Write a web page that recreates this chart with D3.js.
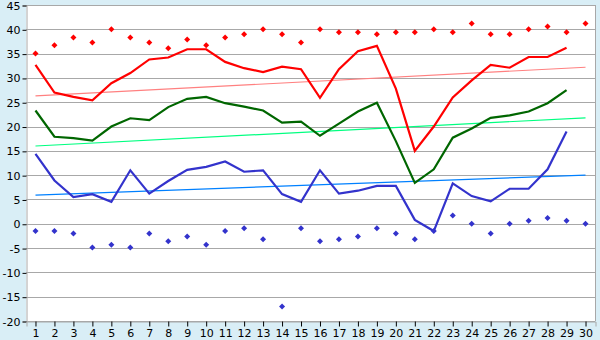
<!DOCTYPE html>
<html>
<head>
<meta charset="utf-8">
<script src="https://cdn.jsdelivr.net/npm/d3@7"></script>
<style>
  body { margin: 0; background: #d9eef6; }
  svg { display: block; }
  text { font-family: "DejaVu Sans", Verdana, sans-serif; font-size: 11px; fill: #000; }
</style>
</head>
<body>
<svg id="chart" width="600" height="340"></svg>
<script>
let days = d3.range(1, 31);
let yTicks = d3.range(-20, 46, 5);

// daily lines (29 days)
let maxT = [32.7, 27.0, 26.1, 25.4, 28.9, 31.0, 33.8, 34.2, 35.9, 35.9, 33.3, 32.0, 31.2, 32.3, 31.8,
  25.9, 31.8, 35.5, 36.6, 27.8, 15.0, 20.0, 26.0, 29.5, 32.7, 32.1, 34.3, 34.3, 36.2];
let meanT = [23.3, 17.9, 17.6, 17.1, 20.0, 21.7, 21.3, 24.0, 25.7, 26.1, 24.8, 24.1, 23.3, 20.8, 21.0,
  18.1, 20.6, 23.1, 24.9, 17.0, 8.4, 11.2, 17.7, 19.6, 21.8, 22.3, 23.1, 24.8, 27.5];
let minT = [14.4, 8.9, 5.5, 6.1, 4.5, 11.0, 6.2, 8.8, 11.1, 11.7, 12.8, 10.7, 11.0, 6.1, 4.5,
  11.0, 6.2, 6.8, 7.8, 7.8, 0.8, -1.5, 8.3, 5.7, 4.6, 7.2, 7.2, 11.2, 19.0];

// diamonds (30 days)
let absMax = [35.0, 36.7, 38.3, 37.3, 40.0, 38.3, 37.3, 36.1, 37.9, 36.7, 38.3, 39.0, 40.0, 39.0, 37.3,
  40.0, 39.4, 39.4, 39.0, 39.4, 39.4, 40.0, 39.4, 41.2, 39.0, 39.0, 40.0, 40.6, 39.4, 41.2];
let absMin = [-1.5, -1.5, -2.0, -4.9, -4.3, -4.9, -2.0, -3.6, -2.6, -4.3, -1.5, -0.9, -3.2, -17.0, -0.9,
  -3.6, -3.2, -2.6, -0.9, -2.0, -3.2, -1.5, 1.7, 0.0, -2.0, 0.0, 0.6, 1.2, 0.6, 0.0];

// trend lines, value at day 1 and day 30
let trendMax = [26.3, 32.2];
let trendMean = [16.0, 21.8];
let trendMin = [5.9, 10.0];

let plotLeft = 26, plotRight = 595, plotTop = 5, plotBottom = 321;

let svg = d3.select("#chart");

let x = d3.scaleBand().domain(days).range([plotLeft, plotRight]).padding(0);
let cx = (d) => x(d) + x.bandwidth() / 2;
let y = d3.scaleLinear().domain([-20, 45]).range([plotBottom, plotTop]);

svg.append("rect")
  .attr("x", plotLeft).attr("y", plotTop)
  .attr("width", plotRight - plotLeft).attr("height", plotBottom - plotTop)
  .style("fill", "#fff");

// grid
svg.append("g")
  .selectAll("line")
  .data(yTicks)
  .join("line")
  .attr("x1", plotLeft).attr("x2", plotRight)
  .attr("y1", (d) => Math.round(y(d)) + 0.5)
  .attr("y2", (d) => Math.round(y(d)) + 0.5)
  .style("stroke", "#a8a8a8");

svg.append("line")
  .attr("x1", plotRight + 0.5).attr("x2", plotRight + 0.5)
  .attr("y1", plotTop).attr("y2", plotBottom)
  .style("stroke", "#a8a8a8");

// axes
let yAxis = svg.append("g")
  .attr("transform", `translate(${plotLeft + 0.5},0.5)`)
  .call(d3.axisLeft(y).tickValues(yTicks).tickSize(4).tickPadding(2).tickFormat((d) => String(d)));
let xAxis = svg.append("g")
  .attr("transform", `translate(0.5,${plotBottom + 0.5})`)
  .call(d3.axisBottom(x).tickSize(5).tickPadding(3));
[yAxis, xAxis].forEach((a) => {
  a.select(".domain").style("stroke", "#a8a8a8");
  a.selectAll(".tick line").style("stroke", "#000");
  a.selectAll("text").style("font-size", "11px").style("font-family", "'DejaVu Sans', Verdana, sans-serif");
});

// trend lines
let trends = [
  { v: trendMax, c: "#ff8080" },
  { v: trendMean, c: "#00ff80" },
  { v: trendMin, c: "#0080ff" }
];
svg.append("g")
  .selectAll("line")
  .data(trends)
  .join("line")
  .attr("x1", cx(1)).attr("x2", cx(30))
  .attr("y1", (d) => y(d.v[0]))
  .attr("y2", (d) => y(d.v[1]))
  .style("stroke", (d) => d.c)
  .style("stroke-width", 1.2);

// main lines
let line = d3.line().x((d, i) => cx(days[i])).y((d) => y(d));
let series = [
  { v: maxT, c: "#ff0000" },
  { v: meanT, c: "#006600" },
  { v: minT, c: "#3333cc" }
];
svg.append("g")
  .selectAll("path")
  .data(series)
  .join("path")
  .attr("d", (d) => line(d.v))
  .style("fill", "none")
  .style("stroke", (d) => d.c)
  .style("stroke-width", 2.2);

// diamonds
let diamond = d3.symbol().type(d3.symbolSquare).size(18);
let marks = [
  { v: absMax, c: "#ff0000" },
  { v: absMin, c: "#3333cc" }
];
marks.forEach((m) => {
  svg.append("g")
    .selectAll("path")
    .data(m.v)
    .join("path")
    .attr("d", diamond)
    .attr("transform", (d, i) => `translate(${cx(days[i])},${y(d)}) rotate(45)`)
    .style("fill", m.c);
});
</script>
</body>
</html>
